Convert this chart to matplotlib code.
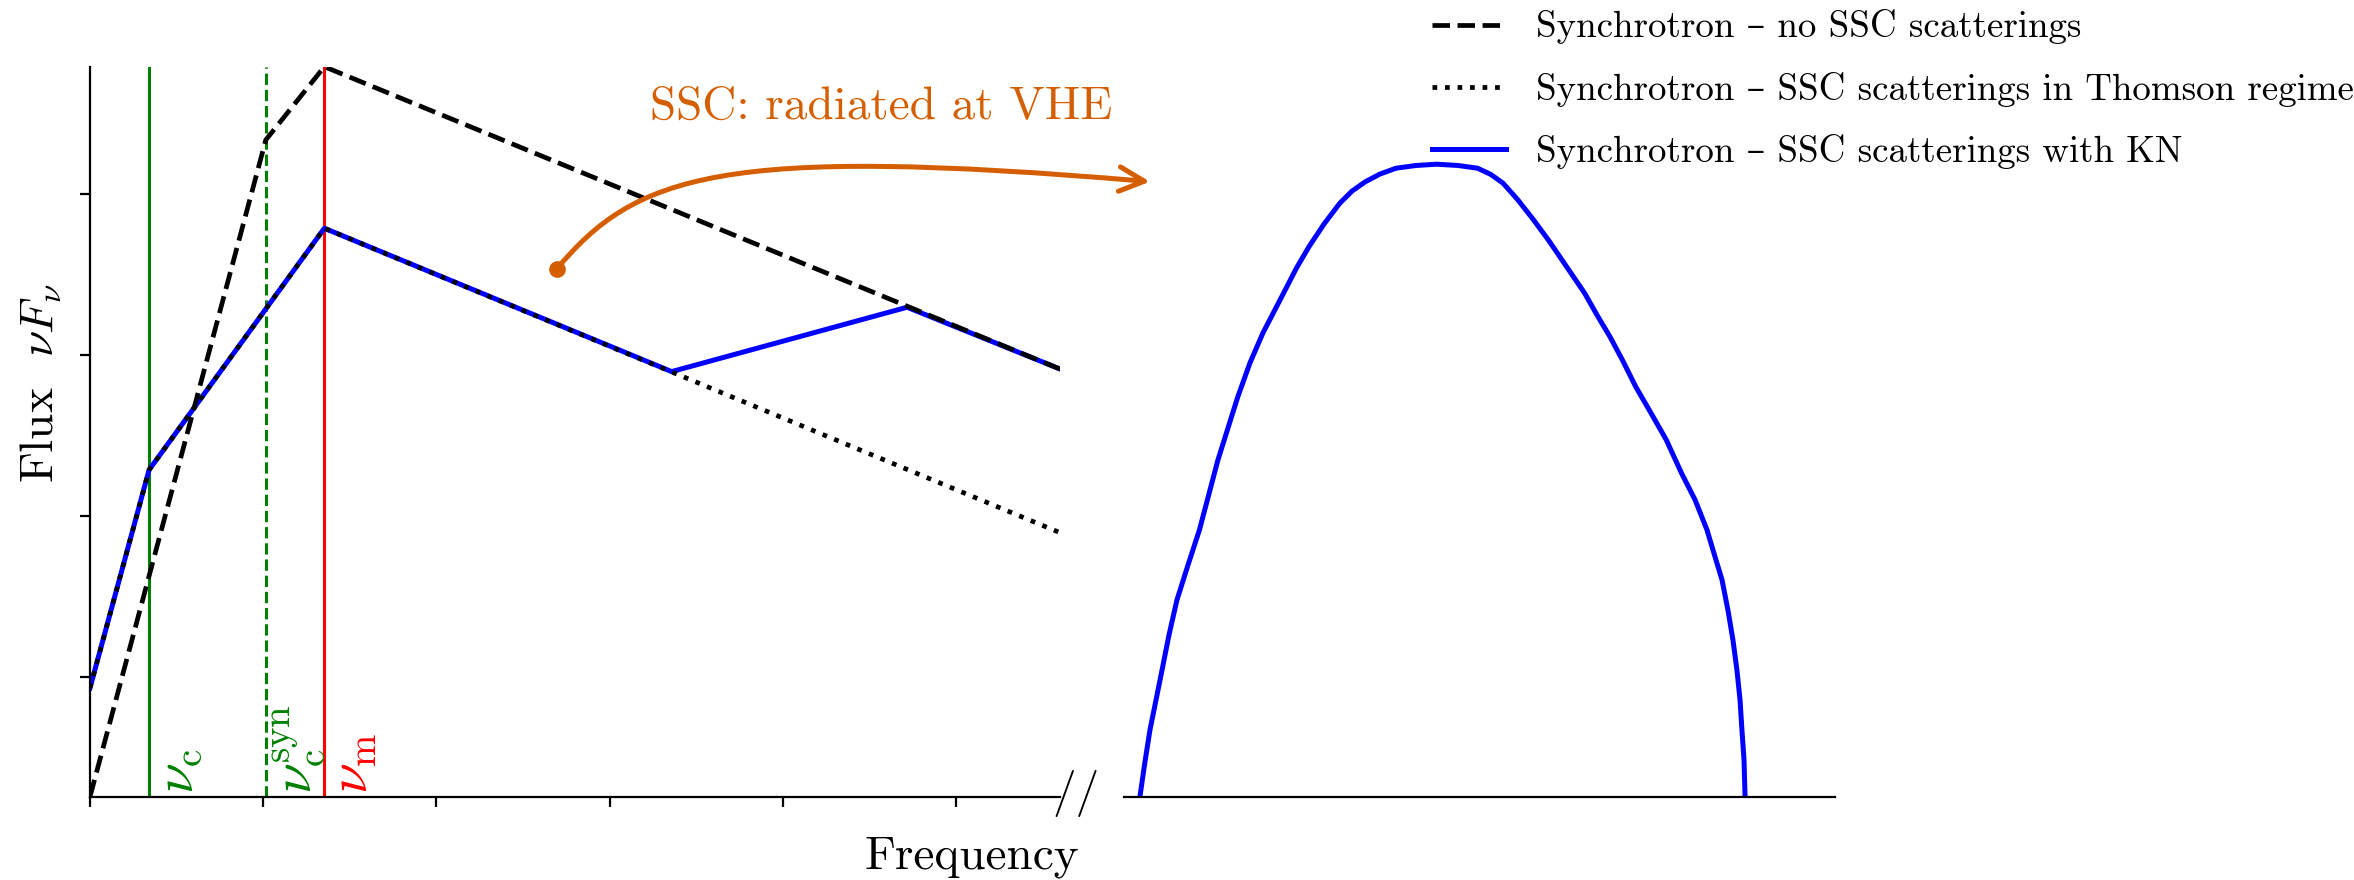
import matplotlib
matplotlib.use("Agg")
import matplotlib.pyplot as plt
from matplotlib.path import Path
from matplotlib.patches import FancyArrowPatch

plt.rcParams['font.family'] = 'serif'
plt.rcParams['font.serif'] = ['cmr10']
plt.rcParams['mathtext.fontset'] = 'cm'
plt.rcParams['axes.unicode_minus'] = False
plt.rcParams['axes.formatter.use_mathtext'] = True

# break frequencies (log nu, arbitrary units)
nu_c = 0.341
nu_c_syn = 1.015
nu_m = 1.353

# synchrotron without SSC losses
x_nossc = [0.0, nu_c_syn, nu_m, 5.6]
y_nossc = [0.254, 4.336, 4.791, 2.912]

# synchrotron with SSC losses in the Thomson regime
x_thomson = [0.0, nu_c, nu_m, 5.6]
y_thomson = [0.930, 2.285, 3.787, 1.895]

# synchrotron with SSC losses including Klein-Nishina suppression
x_kn = [0.0, nu_c, nu_m, 3.358, 4.717, 5.6]
y_kn = [0.930, 2.285, 3.787, 2.896, 3.296, 2.912]

# SSC bump at very high energies
x_ssc = [0.092, 0.121, 0.150, 0.185, 0.220, 0.260, 0.306, 0.370, 0.436, 0.543,
         0.658, 0.728, 0.803, 0.923, 0.994, 1.069, 1.156, 1.247, 1.318, 1.395,
         1.480, 1.572, 1.688, 1.808, 1.931, 2.044, 2.121, 2.191, 2.277, 2.368,
         2.457, 2.545, 2.663, 2.734, 2.809, 2.884, 2.958, 3.046, 3.135, 3.223,
         3.301, 3.370, 3.410, 3.457, 3.491, 3.520, 3.543, 3.561, 3.572, 3.584,
         3.590]
y_ssc = [0.254, 0.470, 0.669, 0.855, 1.042, 1.259, 1.477, 1.694, 1.912, 2.347,
         2.740, 2.950, 3.136, 3.385, 3.534, 3.672, 3.813, 3.942, 4.018, 4.076,
         4.124, 4.160, 4.177, 4.185, 4.177, 4.160, 4.121, 4.067, 3.963, 3.838,
         3.708, 3.569, 3.383, 3.248, 3.113, 2.962, 2.802, 2.639, 2.471, 2.264,
         2.099, 1.912, 1.768, 1.601, 1.414, 1.228, 1.042, 0.855, 0.669, 0.482,
         0.254]

ylim = (0.254, 4.791)
orange = '#d55e00'

fig = plt.figure(figsize=(11.77, 4.4), dpi=200)
ax = fig.add_axes([0.03823, 0.09466, 0.41207, 0.82955])
ax2 = fig.add_axes([0.47749, 0.09466, 0.30204, 0.82955])

# characteristic frequencies
ax.axvline(nu_c, color='green', lw=1.1)
ax.axvline(nu_c_syn, color='green', lw=1.1, ls='--')
ax.axvline(nu_m, color='red', lw=1.1)

l_kn, = ax.plot(x_kn, y_kn, color='blue', lw=1.8, solid_joinstyle='round')
l_nossc, = ax.plot(x_nossc, y_nossc, color='black', lw=1.7, ls='--')
l_th, = ax.plot(x_thomson, y_thomson, color='black', lw=1.7, ls=':')

for xv, lab, col in [(nu_c, r'$\nu_\mathrm{c}$', 'green'),
                     (nu_c_syn, r'$\nu_\mathrm{c}^\mathrm{syn}$', 'green'),
                     (nu_m, r'$\nu_\mathrm{m}$', 'red')]:
    ax.annotate(lab, xy=(xv, ylim[0]), xytext=(2, 1), textcoords='offset points',
                rotation=90, ha='left', va='bottom', color=col, fontsize=20)

ax.set_xlim(0, 5.6)
ax.set_ylim(*ylim)
ax.set_xticks(range(6))
ax.set_xticklabels([])
ax.set_yticks([1, 2, 3, 4])
ax.set_yticklabels([])
ax.spines['top'].set_visible(False)
ax.spines['right'].set_visible(False)

# high-energy panel
ax2.plot(x_ssc, y_ssc, color='blue', lw=1.8, solid_joinstyle='round')
ax2.set_xlim(0, 4.11)
ax2.set_ylim(*ylim)
ax2.set_xticks([])
ax2.set_yticks([])
for s in ['top', 'right', 'left']:
    ax2.spines[s].set_visible(False)

fig.text(1076 / 2354, 1 - 793 / 880, '//', ha='center', va='center', fontsize=17)

fig.text(972 / 2354, 1 - 868 / 880, 'Frequency', ha='center', va='baseline', fontsize=17)
fig.text(41 / 2354, 1 - 383 / 880, r'Flux  $\nu F_\nu$', rotation=90,
         ha='center', va='center', fontsize=17)

# SSC arrow from the synchrotron panel to the VHE bump
ax.plot([2.697], [3.532], 'o', color=orange, ms=6, mew=0, clip_on=False)
px = [(556.5, 269.3), (635, 175), (720, 145), (1150, 181.7)]
verts = [(x / 2354, 1 - y / 880) for x, y in px]
arrow = FancyArrowPatch(path=Path(verts, [Path.MOVETO, Path.CURVE4, Path.CURVE4, Path.CURVE4]),
                        arrowstyle='->,head_length=0.45,head_width=0.22', mutation_scale=20,
                        color=orange, lw=1.8, transform=fig.transFigure)
fig.add_artist(arrow)
fig.text(650 / 2354, 1 - 119 / 880, 'SSC: radiated at VHE', color=orange,
         ha='left', va='baseline', fontsize=17)

handles = [l_nossc, l_th, l_kn]
labels = ['Synchrotron – no SSC scatterings',
          'Synchrotron – SSC scatterings in Thomson regime',
          'Synchrotron – SSC scatterings with KN']
fig.legend(handles, labels, loc='upper left', bbox_to_anchor=(0.5943, 1.027),
           frameon=False, labelspacing=0.74,
           prop={'family': ['cmr10', 'DejaVu Serif'], 'size': 13.3})

fig.savefig('out.png', dpi=200)
